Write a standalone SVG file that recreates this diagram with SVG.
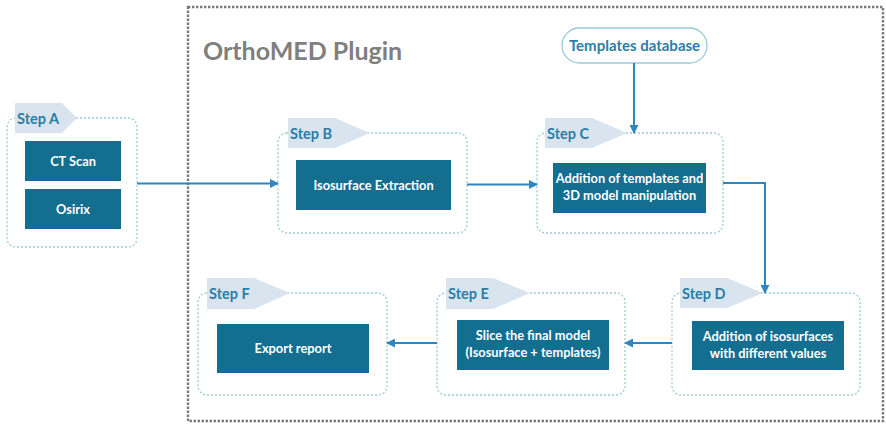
<svg xmlns="http://www.w3.org/2000/svg" width="886" height="425" viewBox="0 0 886 425">
<defs>
<marker id="ah" viewBox="0 0 10 10" refX="9" refY="5" markerWidth="4.5" markerHeight="4.5" orient="auto" markerUnits="strokeWidth">
<path d="M0,0 L10,5 L0,10 Z" fill="#2f86c0"/>
</marker>
<style>
.step{fill:#fff;stroke:#9ccbd8;stroke-width:1.3;stroke-dasharray:2 2}
.tag{fill:#d9e4ef}
.slbl{font-family:Lato,"Open Sans","Liberation Sans",sans-serif;font-weight:bold;font-size:14.5px;fill:#2a7ea8}
.box{fill:#146e90}
.btxt{font-family:Lato,"Open Sans","Liberation Sans",sans-serif;font-weight:bold;font-size:12.8px;fill:#fff;text-anchor:middle}
.conn{fill:none;stroke:#2f86c0;stroke-width:2;marker-end:url(#ah)}
</style>
</defs>
<rect width="886" height="425" fill="#fff"/>
<g id="plugin">
<rect x="188" y="7" width="695" height="414" fill="none" stroke="#7a7a7a" stroke-width="2.4" stroke-dasharray="2.4 1.6"/>
<text x="203" y="60" font-family="Lato,'Open Sans','Liberation Sans',sans-serif" font-weight="bold" font-size="25" fill="#7f7f7f">OrthoMED Plugin</text>
</g>
<g id="templates">
<rect x="562" y="28" width="145" height="35" rx="17.5" fill="#fff" stroke="#9ccbd8" stroke-width="1.3"/>
<text x="634.5" y="51" text-anchor="middle" font-family="Lato,'Open Sans','Liberation Sans',sans-serif" font-weight="bold" font-size="15" fill="#2a7ea8">Templates database</text>
</g>
<g id="stepA">
<rect class="step" x="7" y="118" width="130" height="129" rx="9"/>
<path class="tag" d="M15,103 H62 L77,118 L62,133 H15 Z"/>
<text class="slbl" x="17" y="124">Step A</text>
<rect class="box" x="25" y="141" width="96" height="40"/>
<text class="btxt" x="73" y="165.5">CT Scan</text>
<rect class="box" x="25" y="189" width="96" height="40"/>
<text class="btxt" x="73" y="213.5">Osirix</text>
</g>
<g id="stepB">
<rect class="step" x="278" y="133" width="189" height="100" rx="9"/>
<path class="tag" d="M288,118 H335 L370,133 L335,148 H288 Z"/>
<text class="slbl" x="290" y="139">Step B</text>
<rect class="box" x="296" y="160" width="155" height="50"/>
<text class="btxt" x="373.5" y="189.5">Isosurface Extraction</text>
</g>
<g id="stepC">
<rect class="step" x="537" y="133" width="186" height="100" rx="9"/>
<path class="tag" d="M545,118 H592 L627,133 L592,148 H545 Z"/>
<text class="slbl" x="547" y="139">Step C</text>
<rect class="box" x="553" y="163" width="153" height="50"/>
<text class="btxt" x="629.5" y="183">Addition of templates and</text>
<text class="btxt" x="629.5" y="200">3D model manipulation</text>
</g>
<g id="stepD">
<rect class="step" x="672" y="293" width="188" height="102" rx="9"/>
<path class="tag" d="M680,278 H727 L763,293 L727,308 H680 Z"/>
<text class="slbl" x="682" y="299">Step D</text>
<rect class="box" x="692" y="321" width="152" height="49"/>
<text class="btxt" x="768" y="341">Addition of isosurfaces</text>
<text class="btxt" x="768" y="358">with different values</text>
</g>
<g id="stepE">
<rect class="step" x="437" y="293" width="188" height="102" rx="9"/>
<path class="tag" d="M446,278 H493 L530,293 L493,309 H446 Z"/>
<text class="slbl" x="448" y="299">Step E</text>
<rect class="box" x="457" y="320" width="152" height="50"/>
<text class="btxt" x="533" y="340">Slice the final model</text>
<text class="btxt" x="533" y="357">(Isosurface + templates)</text>
</g>
<g id="stepF">
<rect class="step" x="198" y="293" width="189" height="102" rx="9"/>
<path class="tag" d="M207,278 H254 L290,293 L254,309 H207 Z"/>
<text class="slbl" x="209" y="299">Step F</text>
<rect class="box" x="217" y="324" width="152" height="49"/>
<text class="btxt" x="293" y="353">Export report</text>
</g>
<g id="connectors">
<path class="conn" d="M137,183.5 H278"/>
<path class="conn" d="M467,184.5 H537"/>
<path class="conn" d="M634,63 V133"/>
<path class="conn" d="M723,183 H765 V293"/>
<path class="conn" d="M672,343 H625"/>
<path class="conn" d="M437,343 H387"/>
</g>
</svg>
